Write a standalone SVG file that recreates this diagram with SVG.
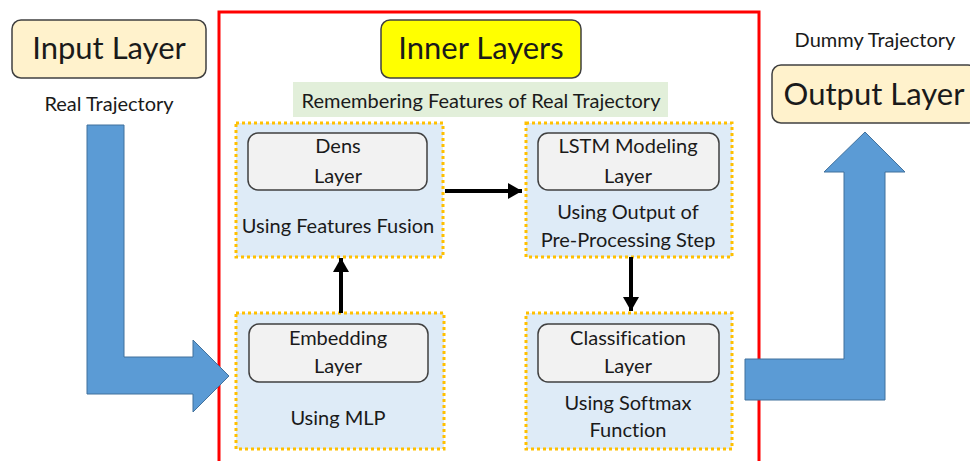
<svg xmlns="http://www.w3.org/2000/svg" width="970" height="461" viewBox="0 0 970 461">
  <style>
    text { font-family: Lato, "Liberation Sans", sans-serif; fill: #1a1a1a; text-anchor: middle; font-variant-ligatures: none; }
    .big { font-size: 31px; }
    .lbl { font-size: 20px; }
    .txt { font-size: 20px; }
    .io { fill: #FFF2CC; stroke: #404040; stroke-width: 1.5; }
    .panel { fill: #DEEBF7; stroke: #FFC000; stroke-width: 3; stroke-dasharray: 3 3; }
    .inner { fill: #F2F2F2; stroke: #404040; stroke-width: 1.5; }
    .flow { fill: #5B9BD5; stroke: #41719C; stroke-width: 1; }
    .conn { stroke: #000; stroke-width: 4; fill: none; marker-end: url(#head); }
  </style>
  <defs>
    <marker id="head" markerUnits="userSpaceOnUse" markerWidth="16" markerHeight="16" refX="14" refY="8" orient="auto">
      <path d="M0,0 L14,8 L0,16 Z" fill="#000"/>
    </marker>
  </defs>

  <rect x="0" y="0" width="970" height="461" fill="#fff"/>

  <!-- inner-layers frame -->
  <g id="inner-frame">
    <rect x="219" y="12" width="540" height="470" fill="none" stroke="#FF0000" stroke-width="3"/>
  </g>

  <g id="input-layer">
    <rect class="io" x="12" y="20" width="194" height="58" rx="9"/>
    <text class="big" x="109" y="59">Input Layer</text>
    <text class="lbl" x="109" y="111">Real Trajectory</text>
  </g>

  <g id="inner-layers">
    <rect x="381" y="20" width="200" height="58" rx="9" fill="#FFFF00" stroke="#404040" stroke-width="1.5"/>
    <text class="big" x="481" y="59">Inner Layers</text>
  </g>

  <g id="remembering">
    <rect x="293" y="82" width="375" height="35" fill="#E2EFDA"/>
    <text class="lbl" x="481" y="108">Remembering Features of Real Trajectory</text>
  </g>

  <g id="output-layer">
    <text class="lbl" x="875" y="47">Dummy Trajectory</text>
    <rect class="io" x="772" y="65" width="205" height="58" rx="9"/>
    <text class="big" x="874" y="105">Output Layer</text>
  </g>

  <g id="dens">
    <rect class="panel" x="236" y="123" width="207" height="134"/>
    <rect class="inner" x="248" y="133" width="179" height="57" rx="10"/>
    <text class="txt" x="338" y="153">Dens</text>
    <text class="txt" x="338" y="183">Layer</text>
    <text class="txt" x="338" y="233">Using Features Fusion</text>
  </g>

  <g id="lstm">
    <rect class="panel" x="526" y="123" width="206" height="134"/>
    <rect class="inner" x="538" y="133" width="181" height="57" rx="10"/>
    <text class="txt" x="628" y="153">LSTM Modeling</text>
    <text class="txt" x="628" y="183">Layer</text>
    <text class="txt" x="628" y="219">Using Output of</text>
    <text class="txt" x="628" y="247">Pre-Processing Step</text>
  </g>

  <g id="embedding">
    <rect class="panel" x="236" y="313" width="208" height="136"/>
    <rect class="inner" x="249" y="324" width="179" height="58" rx="10"/>
    <text class="txt" x="338" y="345">Embedding</text>
    <text class="txt" x="338" y="373">Layer</text>
    <text class="txt" x="338" y="425">Using MLP</text>
  </g>

  <g id="classification">
    <rect class="panel" x="526" y="313" width="206" height="136"/>
    <rect class="inner" x="538" y="324" width="181" height="58" rx="10"/>
    <text class="txt" x="628" y="345">Classification</text>
    <text class="txt" x="628" y="373">Layer</text>
    <text class="txt" x="628" y="410">Using Softmax</text>
    <text class="txt" x="628" y="437">Function</text>
  </g>

  <g id="connectors">
    <line class="conn" x1="445" y1="191" x2="522" y2="191"/>
    <line class="conn" x1="341" y1="313" x2="341" y2="258"/>
    <line class="conn" x1="631" y1="257" x2="631" y2="311"/>
    <!-- broad flow arrows in and out of the inner layers -->
    <path class="flow" d="M87,125 L124,125 L124,357 L193,357 L193,340 L229,376 L193,412 L193,394 L87,394 Z"/>
    <path class="flow" d="M745,359 L844,359 L844,172 L824,172 L865,132 L905,172 L885,172 L885,400 L745,400 Z"/>
  </g>
</svg>
